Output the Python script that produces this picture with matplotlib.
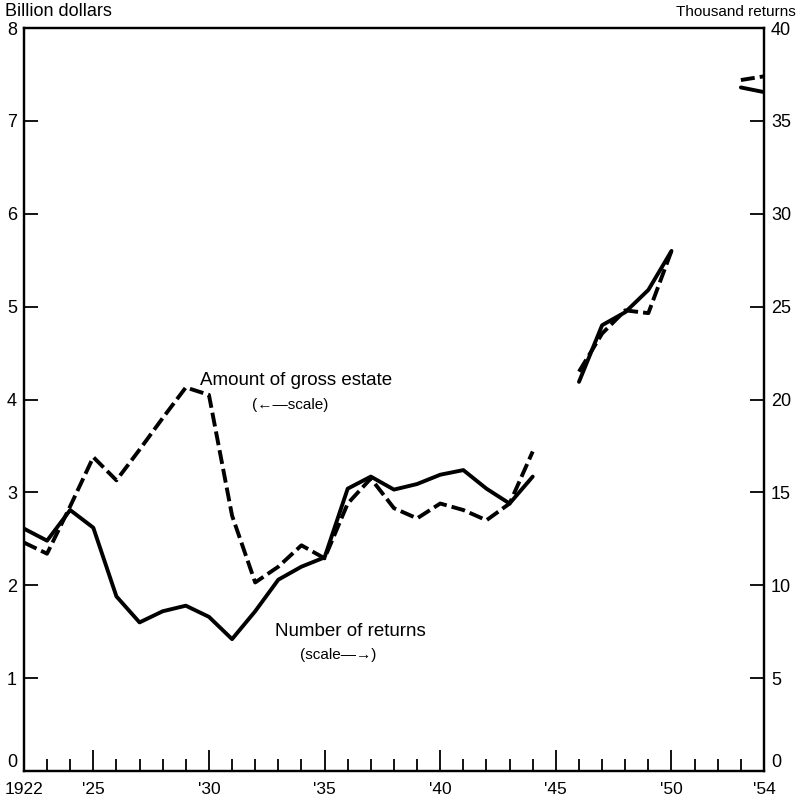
import numpy as np
import matplotlib.pyplot as plt

nan = np.nan

years = np.arange(1922, 1955)

# amount of gross estate, billion dollars (left scale)
gross_estate = [2.46, 2.34, 2.85, 3.38, 3.13, 3.46, 3.80, 4.13, 4.05, 2.75,
                2.03, 2.20, 2.43, 2.29, 2.88, 3.15, 2.83, 2.72, 2.88, 2.81,
                2.70, 2.88, 3.44, nan, 4.30, 4.71, 4.96, 4.93, 5.60, nan,
                nan, 7.44, 7.48]

# number of returns, thousands (right scale)
num_returns = [13.05, 12.4, 14.05, 13.1, 9.4, 8.0, 8.6, 8.9, 8.3, 7.1,
               8.6, 10.3, 11.0, 11.5, 15.2, 15.85, 15.15, 15.45, 15.95, 16.2,
               15.2, 14.4, 15.85, nan, 20.95, 24.0, 24.7, 25.9, 28.0, nan,
               nan, 36.8, 36.55]

xtick_pos = [1922, 1925, 1930, 1935, 1940, 1945, 1950, 1954]
xtick_labels = ['1922', "'25", "'30", "'35", "'40", "'45", "'50", "'54"]

plt.rcParams['font.family'] = ['Liberation Sans', 'DejaVu Sans']

fig = plt.figure(figsize=(7.97, 7.96), dpi=100)
ax = fig.add_axes([0.030, 0.0314, 0.9286, 0.9334])
ax2 = ax.twinx()

ax.plot(years, gross_estate, color='black', lw=2.8,
        linestyle=(0, (3.6, 1.3)), dash_capstyle='butt')
ax2.plot(years, num_returns, color='black', lw=2.8, solid_capstyle='round')

ax.set_xlim(1922, 1954)
ax.set_ylim(0, 8)
ax2.set_ylim(0, 40)

ax.set_xticks(xtick_pos)
ax.set_xticklabels(xtick_labels, fontsize=12.5)
ax.set_xticks(years, minor=True)
ax.set_yticks(range(0, 9))
ax.set_yticklabels([str(v) for v in range(0, 9)], fontsize=13)
ax2.set_yticks(range(0, 41, 5))
ax2.set_yticklabels([str(v) for v in range(0, 41, 5)], fontsize=13)

# ticks point into the plot, five-year marks longer
ax.tick_params(axis='x', which='major', direction='in', length=15, width=1.3, pad=8)
ax.tick_params(axis='x', which='minor', direction='in', length=8.6, width=1.3)
ax.tick_params(axis='y', direction='in', length=10, width=1.3, pad=5)
ax2.tick_params(axis='y', direction='in', length=10, width=1.3, pad=5)

# lift the bottom "0" a touch so it sits above the year labels
ax.get_yticklabels()[0].set_va('bottom')
ax2.get_yticklabels()[0].set_va('bottom')

for a in (ax, ax2):
    for s in a.spines.values():
        s.set_linewidth(1.6)

fig.text(0.006, 0.985, 'Billion dollars', fontsize=13, ha='left', va='center')
fig.text(0.998, 0.985, 'Thousand returns', fontsize=11, ha='right', va='center')

ax.text(1933.75, 4.21, 'Amount of gross estate', fontsize=13.5, ha='center', va='center')
ax.text(1933.5, 3.94, '(\u2190\u2014scale)', fontsize=11, ha='center', va='center')
ax.text(1936.1, 1.50, 'Number of returns', fontsize=13.5, ha='center', va='center')
ax.text(1935.6, 1.25, '(scale\u2014\u2192)', fontsize=11, ha='center', va='center')

fig.savefig('out.png', dpi=100)
